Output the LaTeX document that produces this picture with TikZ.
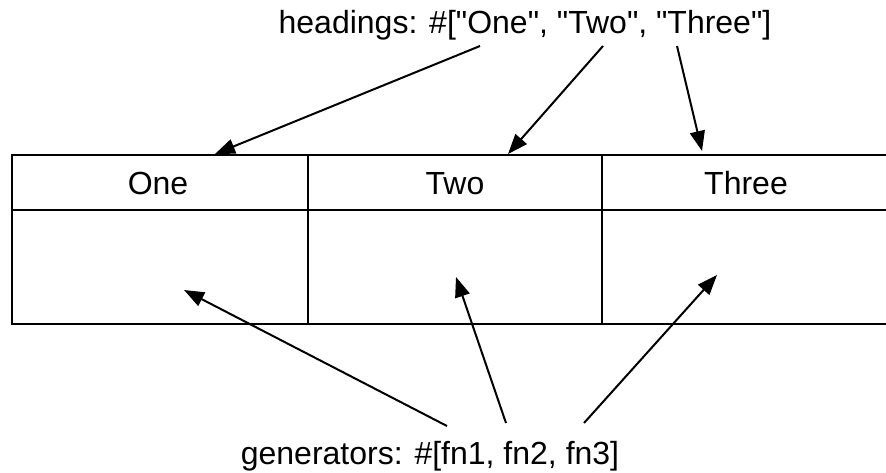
\documentclass[tikz,border=0pt]{standalone}
\usepackage{fontspec}
\setmainfont{Liberation Sans}[Ligatures=TeXOff]
\usetikzlibrary{arrows.meta}
\begin{document}
\begin{tikzpicture}[x=1pt,y=-1pt,
  cell/.style={draw=black,line width=2pt,minimum height=#1,inner sep=0pt,outer sep=0pt,anchor=north west},
  lbl/.style={font=\fontsize{32}{38}\selectfont,inner sep=0pt},
  arr/.style={line width=2pt,-{Triangle[length=20pt,width=15pt]}}]
\useasboundingbox (0,0) rectangle (886,472);
\clip (0,0) rectangle (886,472);
% header cells
\node[cell=55pt,minimum width=296pt] (h1) at (12,155) {};
\node[cell=55pt,minimum width=294pt] (h2) at (308,155) {};
\node[cell=55pt,minimum width=320pt] (h3) at (602,155) {};
% body cells
\node[cell=114pt,minimum width=296pt] (b1) at (12,210) {};
\node[cell=114pt,minimum width=294pt] (b2) at (308,210) {};
\node[cell=114pt,minimum width=320pt] (b3) at (602,210) {};
% header texts
\node[lbl,anchor=base] (t1) at (158,194) {One};
\node[lbl,anchor=base] (t2) at (455,194) {Two};
\node[lbl,anchor=base] (t3) at (746,194) {Three};
% captions
\node[lbl] (hd) at (525,25) {headings: \#["One", "Two", "Three"]};
\node[lbl] (gn) at (430,456) {generators: \#[fn1, fn2, fn3]};
% coordinates
\coordinate (hs1) at (480,46);
\coordinate (hs2) at (603,46);
\coordinate (hs3) at (677,46);
\coordinate (he1) at (215,154);
\coordinate (he2) at (508,154);
\coordinate (he3) at (702,151);
\coordinate (gs1) at (447,426);
\coordinate (gs2) at (506,423);
\coordinate (gs3) at (584,423);
\coordinate (ge1) at (184,290);
\coordinate (ge2) at (456,277);
\coordinate (ge3) at (717,275);
\draw[arr] (hs1) -- (he1);
\draw[arr] (hs2) -- (he2);
\draw[arr] (hs3) -- (he3);
\draw[arr] (gs1) -- (ge1);
\draw[arr] (gs2) -- (ge2);
\draw[arr] (gs3) -- (ge3);
\end{tikzpicture}
\end{document}
